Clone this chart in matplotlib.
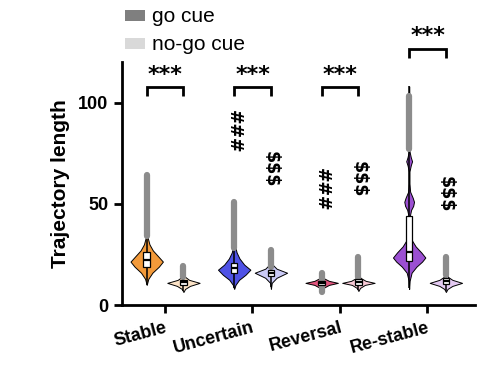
import matplotlib
matplotlib.use("Agg")
import matplotlib.pyplot as plt
from matplotlib.patches import Rectangle
import matplotlib.transforms as mtransforms
import numpy as np

plt.rcParams['font.family'] = ['Liberation Sans', 'DejaVu Sans']

# ---------------- data ----------------
categories = ["Stable", "Uncertain", "Reversal", "Re-stable"]
conditions = ["go cue", "no-go cue"]

# box-plot summaries: [go, nogo] per category
q1 = [[19, 10], [16, 14.5], [10, 10], [22, 10.5]]
median = [[22.5, 11.3], [18.5, 16], [11, 11.5], [26, 12]]
q3 = [[26, 12.5], [21, 17.5], [12, 13], [44, 13.5]]
whis_lo = [[10, 6.8], [8.5, 9], [7.5, 7.5], [8.5, 7]]
whis_hi = [[36, 15], [30, 20], [14, 15], [108, 16]]
outlier_lo = [[34, 14], [28, 19], [6.5, 14], [77, 15]]
outlier_hi = [[64, 19.5], [51, 27], [16, 24], [103, 24]]

# violin density profiles (value, relative width)
vio_coords = [
    [[10, 13, 16, 19, 21.5, 24, 27, 30, 33, 38, 50, 64],
     [6.5, 8, 9.5, 11, 12.5, 14, 16, 20]],
    [[8, 10, 12.5, 15, 17.5, 20, 23, 26, 29, 35, 45, 52],
     [8, 11, 13.5, 16, 18, 20, 23, 27]],
    [[7, 8.5, 10, 11, 12, 13.5, 16],
     [7, 8.5, 10, 11, 12, 13.5, 16, 20, 24]],
    [[8, 12, 16, 19, 21.5, 23.5, 26, 29, 32, 36, 40, 44, 47, 49, 51, 53, 56,
      60, 66, 69, 71, 73, 76, 85, 108],
     [6.5, 8, 9.5, 11, 12.5, 14, 16, 20, 24]],
]
vio_vals = [
    [[0, 0.1, 0.35, 0.75, 1.0, 0.72, 0.38, 0.17, 0.07, 0.02, 0.01, 0.0],
     [0, 0.1, 0.4, 1.0, 0.35, 0.1, 0.03, 0]],
    [[0, 0.08, 0.3, 0.7, 1.0, 0.62, 0.33, 0.15, 0.06, 0.02, 0.01, 0],
     [0, 0.05, 0.35, 1.0, 0.35, 0.1, 0.03, 0]],
    [[0, 0.1, 0.45, 1.0, 0.45, 0.08, 0],
     [0, 0.1, 0.4, 1.0, 0.45, 0.12, 0.04, 0.02, 0]],
    [[0, 0.03, 0.15, 0.45, 0.8, 1.0, 0.75, 0.4, 0.17, 0.06, 0.03, 0.04, 0.12,
      0.25, 0.3, 0.22, 0.06, 0.02, 0.02, 0.1, 0.18, 0.1, 0.02, 0.01, 0],
     [0, 0.1, 0.4, 1.0, 0.4, 0.12, 0.04, 0.02, 0]],
]

colors = [["#F39A3A", "#FBE2C6"], ["#4F52E6", "#CACAF6"],
          ["#E2557E", "#F8C9D6"], ["#9B4FD2", "#E4CAF2"]]
legend_colors = ["#7F7F7F", "#D9D9D9"]

sig_labels = ["***", "***", "***", "***"]
sig_heights = [107.5, 107.5, 107.5, 126.5]
marks = [[None, None], ["###", "$$$"], ["###", "$$$"], [None, "$$$"]]
mark_y = [[None, None], [85.5, 67], [57, 62], [None, 55]]

# ---------------- figure ----------------
fig = plt.figure(figsize=(4.95, 3.69), dpi=100)
ax = fig.add_axes([0.246, 0.173, 0.714, 0.659])

offsets = [-0.205, 0.215]
vwidth = 0.37
bwidth = 0.075

for i, cat in enumerate(categories):
    for j in range(2):
        x = i + offsets[j]
        stats = [dict(coords=np.array(vio_coords[i][j], float),
                      vals=np.array(vio_vals[i][j], float),
                      mean=median[i][j], median=median[i][j],
                      min=vio_coords[i][j][0], max=vio_coords[i][j][-1])]
        parts = ax.violin(stats, positions=[x], widths=vwidth,
                          showmeans=False, showextrema=False, showmedians=False)
        for b in parts['bodies']:
            b.set_facecolor(colors[i][j])
            b.set_edgecolor('black')
            b.set_linewidth(0.7)
            b.set_alpha(1)
            b.set_zorder(1)
        ax.vlines(x, whis_lo[i][j], whis_hi[i][j], color='black', lw=1.1, zorder=2)
        oc = ax.vlines(x, outlier_lo[i][j], outlier_hi[i][j], color='#8C8C8C',
                       lw=4.5, zorder=3)
        oc.set_capstyle('round')
        ax.add_patch(Rectangle((x - bwidth / 2, q1[i][j]), bwidth,
                               q3[i][j] - q1[i][j], facecolor='white',
                               edgecolor='black', lw=0.9, zorder=4))
        ax.hlines(median[i][j], x - bwidth / 2, x + bwidth / 2, color='black',
                  lw=1.6, zorder=5)
        if marks[i][j]:
            ax.text(x, mark_y[i][j], marks[i][j], rotation=270, ha='center',
                    va='center', fontsize=12.5, fontweight='bold', zorder=6,
                    parse_math=False, family=['DejaVu Sans'])

    # significance bracket
    x1 = i + offsets[0]
    x2 = i + offsets[1]
    h = sig_heights[i]
    ax.plot([x1, x1, x2, x2], [h - 4.5, h, h, h - 4.5], color='black', lw=2,
            clip_on=False, solid_capstyle='butt', solid_joinstyle='miter')
    ax.text((x1 + x2) / 2, h + 1.2, sig_labels[i], ha='center', va='bottom',
            fontsize=16, fontweight='bold', clip_on=False,
            family=['DejaVu Sans'])

ax.set_xlim(-0.49, 3.55)
ax.set_ylim(0, 120)
ax.set_xticks(range(len(categories)))
ax.set_xticklabels(categories, rotation=15, ha='right', rotation_mode='anchor',
                   fontsize=13, fontweight='bold')
shift = mtransforms.ScaledTranslation(6 / 100, -2 / 100, fig.dpi_scale_trans)
for lbl in ax.get_xticklabels():
    lbl.set_transform(lbl.get_transform() + shift)
ax.set_yticks([0, 50, 100])
ax.set_yticklabels(["0", "50", "100"], fontsize=13, fontweight='bold')
ax.set_ylabel("Trajectory length", fontsize=15, fontweight='bold', labelpad=6)
for s in ['top', 'right']:
    ax.spines[s].set_visible(False)
for s in ['left', 'bottom']:
    ax.spines[s].set_linewidth(2)
ax.tick_params(axis='both', width=2, length=6, direction='out')
ax.tick_params(axis='x', pad=4)

# legend
for k, (lab, col) in enumerate(zip(conditions, legend_colors)):
    ypix = 16 + 28 * k
    yf = 1 - ypix / 369
    fig.patches.append(Rectangle((125 / 495, yf - 5 / 369), 20 / 495, 11 / 369,
                                 transform=fig.transFigure, facecolor=col,
                                 edgecolor='none'))
    fig.text(152 / 495, yf, lab, fontsize=15, va='center', ha='left')

fig.savefig("out.png", dpi=100)
